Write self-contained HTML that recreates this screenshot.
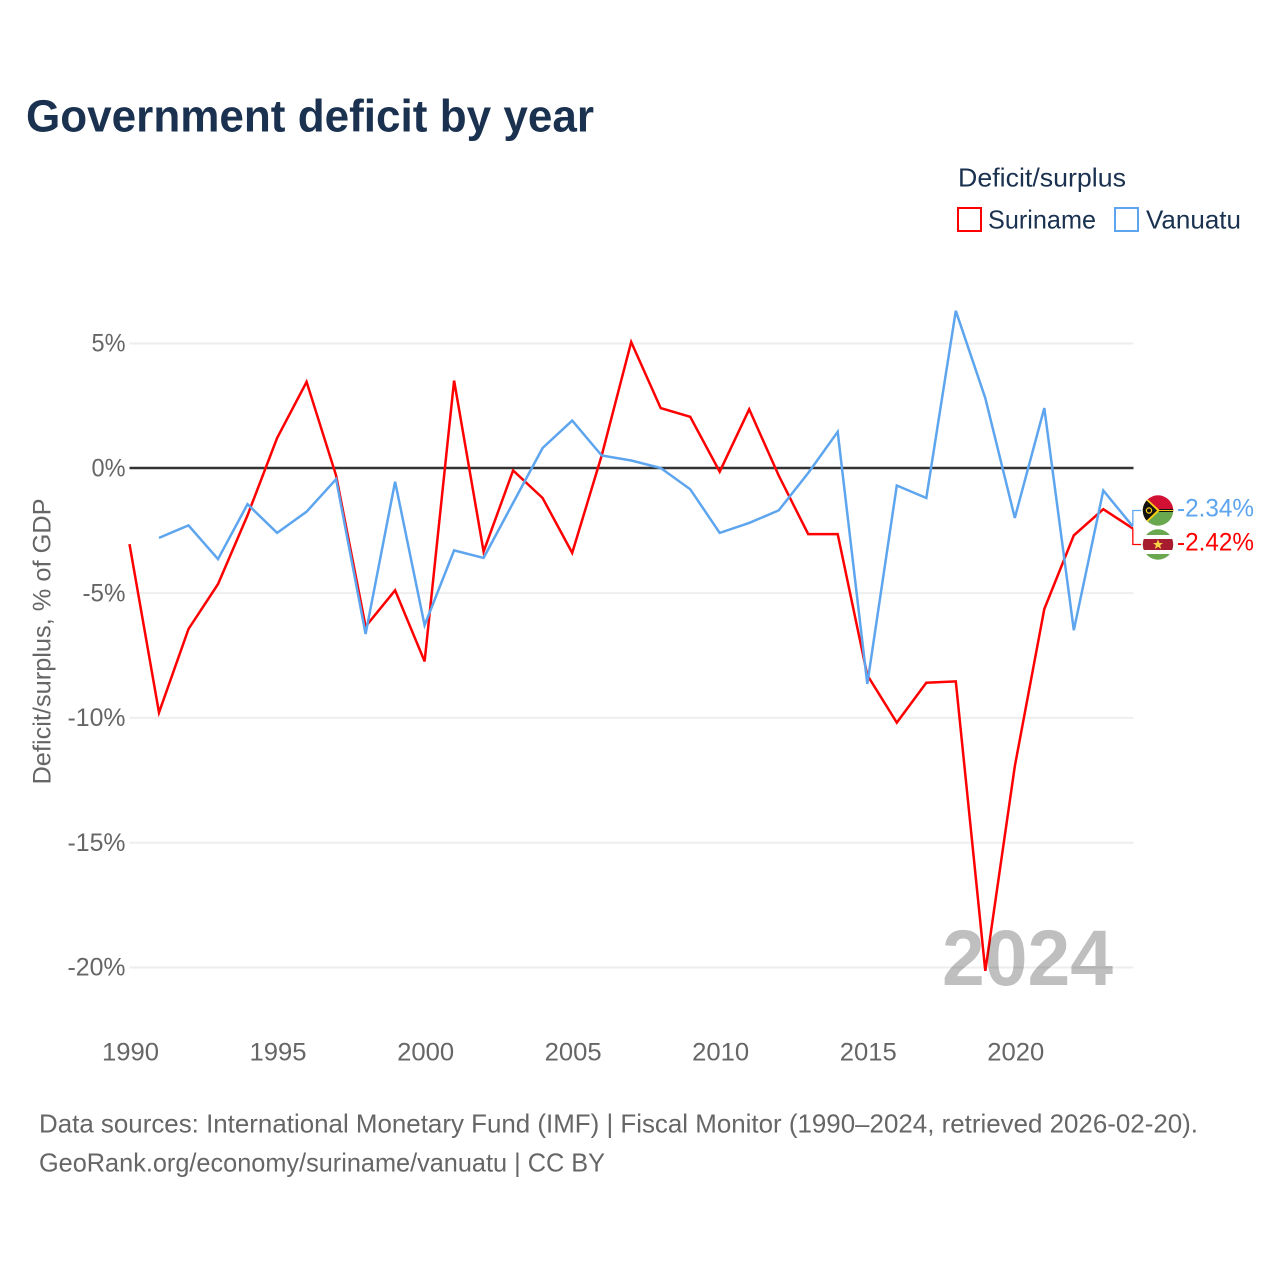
<!DOCTYPE html>
<html lang="en">
<head>
<meta charset="utf-8">
<title>Government deficit by year</title>
<style>
html,body{margin:0;padding:0;background:#fff;}
svg{display:block;font-family:"Liberation Sans",sans-serif;}
</style>
</head>
<body>
<svg id="chart" width="1280" height="1280" viewBox="0 0 1280 1280" xmlns="http://www.w3.org/2000/svg">
  <defs>
    <clipPath id="flag-clip-v"><circle cx="1158" cy="510.5" r="15.2"/></clipPath>
    <clipPath id="flag-clip-s"><circle cx="1158" cy="544.5" r="15.2"/></clipPath>
  </defs>
  <rect width="1280" height="1280" fill="#fff"/>
  <text x="26" y="131.5" font-size="45" font-weight="700" fill="#1a3150" textLength="568" lengthAdjust="spacingAndGlyphs">Government deficit by year</text>

  <g>
    <text x="958" y="186.5" font-size="26" fill="#1a3150" textLength="168" lengthAdjust="spacingAndGlyphs">Deficit/surplus</text>
    <rect x="958" y="208" width="23" height="23" fill="#fff" stroke="#ff0000" stroke-width="2"/>
    <text x="988" y="228.5" font-size="26" fill="#1a3150" textLength="108" lengthAdjust="spacingAndGlyphs">Suriname</text>
    <rect x="1115" y="208" width="23" height="23" fill="#fff" stroke="#5da5ee" stroke-width="2"/>
    <text x="1146" y="228.5" font-size="26" fill="#1a3150" textLength="95" lengthAdjust="spacingAndGlyphs">Vanuatu</text>
  </g>

  <text transform="translate(50.5,641.5) rotate(-90)" text-anchor="middle" font-size="25" fill="#666" textLength="286" lengthAdjust="spacingAndGlyphs">Deficit/surplus, % of GDP</text>

  <g id="grid"></g>
  <g id="y-labels"></g>
  <g id="x-labels"></g>
  <g id="series"></g>

  <text x="942" y="985" font-size="79" font-weight="700" fill="#000" fill-opacity="0.25" textLength="171" lengthAdjust="spacingAndGlyphs">2024</text>

  <g id="end-labels"></g>

  <g clip-path="url(#flag-clip-v)">
    <rect x="1142" y="495" width="32" height="16" fill="#d21034"/>
    <rect x="1142" y="510" width="32" height="17" fill="#6aa84f"/>
    <rect x="1142" y="509" width="32" height="3" fill="#111"/>
    <rect x="1142" y="510" width="32" height="1" fill="#fdce12"/>
    <polygon points="1142,494 1160,510.5 1142,527" fill="#fdce12"/>
    <polygon points="1142,496 1157,510.5 1142,525" fill="#111"/>
    <circle cx="1149" cy="510.5" r="2.6" fill="none" stroke="#fdce12" stroke-width="1.2"/>
  </g>
  <g clip-path="url(#flag-clip-s)">
    <rect x="1142" y="529" width="32" height="32" fill="#6aa84f"/>
    <rect x="1142" y="535" width="32" height="19" fill="#fff"/>
    <rect x="1142" y="539" width="32" height="11" fill="#a61c2e"/>
    <polygon points="1158,539.5 1159.4,543 1163,543 1160.1,545.3 1161.2,549 1158,546.8 1154.8,549 1155.9,545.3 1153,543 1156.6,543" fill="#f7d348"/>
  </g>

  <g font-size="26" fill="#666">
    <text x="39" y="1132.5" textLength="1159" lengthAdjust="spacingAndGlyphs">Data sources: International Monetary Fund (IMF) | Fiscal Monitor (1990–2024, retrieved 2026-02-20).</text>
    <text x="39" y="1171.5" textLength="566" lengthAdjust="spacingAndGlyphs">GeoRank.org/economy/suriname/vanuatu | CC BY</text>
  </g>
</svg>
<script>
const years = [1990,1991,1992,1993,1994,1995,1996,1997,1998,1999,2000,2001,2002,2003,2004,2005,2006,2007,2008,2009,2010,2011,2012,2013,2014,2015,2016,2017,2018,2019,2020,2021,2022,2023,2024];
const surinameValues = [-3.05,-9.8,-6.45,-4.65,-1.9,1.2,3.45,-0.3,-6.35,-4.9,-7.75,3.5,-3.35,-0.1,-1.2,-3.4,0.5,5.05,2.4,2.05,-0.15,2.35,-0.3,-2.65,-2.65,-8.3,-10.2,-8.6,-8.55,-20.15,-11.95,-5.65,-2.7,-1.65,-2.42];
const vanuatuValues = [null,-2.8,-2.3,-3.65,-1.45,-2.6,-1.75,-0.45,-6.65,-0.55,-6.3,-3.3,-3.6,-1.4,0.8,1.9,0.5,0.3,0,-0.85,-2.6,-2.2,-1.7,-0.2,1.45,-8.65,-0.7,-1.2,6.3,2.8,-2.0,2.4,-6.5,-0.9,-2.34];
const yTicks = [5,0,-5,-10,-15,-20];
const xTicks = [1990,1995,2000,2005,2010,2015,2020];

const NS = 'http://www.w3.org/2000/svg';
function xScale(year){ return 129.5 + (year - 1990) * 29.51; }
function yScale(v){ return 468 - v * 24.96; }
function make(tag, attrs, parent){
  const el = document.createElementNS(NS, tag);
  for (const k in attrs) el.setAttribute(k, attrs[k]);
  parent.appendChild(el);
  return el;
}

const gridG = document.getElementById('grid');
const yLabelG = document.getElementById('y-labels');
const xLabelG = document.getElementById('x-labels');
const seriesG = document.getElementById('series');
const endG = document.getElementById('end-labels');

yTicks.forEach(function(t){
  if (t === 0) return;
  const line = make('line', {x1:129.5, x2:1133.5, y1:yScale(t) + 0.3, y2:yScale(t) + 0.3, stroke:'#eeeeee', 'stroke-width':2}, gridG);
  
  
});
yTicks.forEach(function(t){
  const label = make('text', {x:125.5, y:yScale(t) + 8.5, 'text-anchor':'end', 'font-size':25, fill:'#666'}, yLabelG);
  
  
  label.textContent = t + '%';
  label.setAttribute('textLength', t < 0 ? (t <= -10 ? 58 : 43) : 34);
  label.setAttribute('lengthAdjust', 'spacingAndGlyphs');
});
xTicks.forEach(function(y){
  const label = make('text', {x:xScale(y) + 1, y:1060.5, 'text-anchor':'middle', 'font-size':25, fill:'#666', textLength:57, lengthAdjust:'spacingAndGlyphs'}, xLabelG);
  
  
  label.textContent = y;
});

function linePoints(values){
  const pts = [];
  values.forEach(function(v, i){
    if (v !== null) pts.push(xScale(years[i]).toFixed(1) + ',' + yScale(v).toFixed(1));
  });
  return pts.join(' ');
}

const zeroLine = make('line', {x1:129.5, x2:1133.5, y1:yScale(0), y2:yScale(0), stroke:'#333', 'stroke-width':2.4}, seriesG);



const redLine = make('polyline', {points:linePoints(surinameValues), fill:'none', stroke:'#ff0000', 'stroke-width':2.5, 'stroke-linejoin':'miter'}, seriesG);



const blueLine = make('polyline', {points:linePoints(vanuatuValues), fill:'none', stroke:'#5da5ee', 'stroke-width':2.5, 'stroke-linejoin':'miter'}, seriesG);



const lastYear = years[years.length - 1];
const lastS = surinameValues[surinameValues.length - 1];
const lastV = vanuatuValues[vanuatuValues.length - 1];
const endX = xScale(lastYear);

const blueLead = make('polyline', {points:endX + ',' + yScale(lastV) + ' ' + endX + ',510.5 1141,510.5', fill:'none', stroke:'#5da5ee', 'stroke-width':1.3}, endG);



const redLead = make('polyline', {points:endX + ',' + yScale(lastS) + ' ' + endX + ',544.5 1141,544.5', fill:'none', stroke:'#ff0000', 'stroke-width':1.3}, endG);



const blueLabel = make('text', {x:1177, y:516.5, 'font-size':25, fill:'#5da5ee', textLength:77, lengthAdjust:'spacingAndGlyphs'}, endG);


blueLabel.textContent = lastV.toFixed(2) + '%';

const redLabel = make('text', {x:1177, y:550.5, 'font-size':25, fill:'#ff0000', textLength:77, lengthAdjust:'spacingAndGlyphs'}, endG);


redLabel.textContent = lastS.toFixed(2) + '%';
</script>
</body>
</html>
